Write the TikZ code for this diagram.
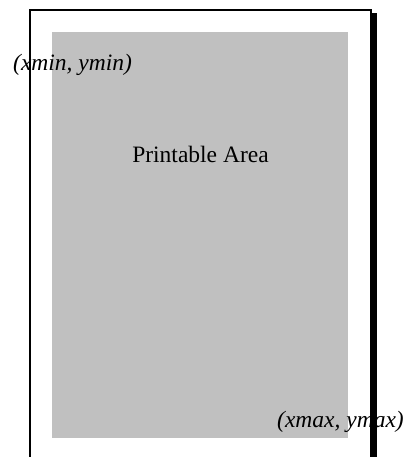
\documentclass[tikz,border=0pt]{standalone}
\usepackage{fontspec}
\setmainfont{Liberation Serif}
\definecolor{areagray}{HTML}{C0C0C0}

\begin{document}
\begin{tikzpicture}[x=1pt, y=-1pt,
	label text/.style={inner sep=0pt, font=\fontsize{23.5}{28}\selectfont\itshape},
	area text/.style={inner sep=0pt, font=\fontsize{23.5}{28}\selectfont}]
	\useasboundingbox (0,0) rectangle (413,457);
	
	\fill[areagray] (52,32) rectangle (348,438);
	\node[area text, anchor=base] (area) at (200.5,162) {Printable Area};
	\node[label text, anchor=base west] (min) at (13,71) {(xmin, ymin)};
	\node[label text, anchor=base east] (max) at (404,427) {(xmax, ymax)};
	
	% page edge and its shadow
	\draw[line width=2pt] (30,458) -- (30,10) -- (371,10) -- (371,458);
	\fill (371,13.5) rectangle (377,458);
\end{tikzpicture}
\end{document}
